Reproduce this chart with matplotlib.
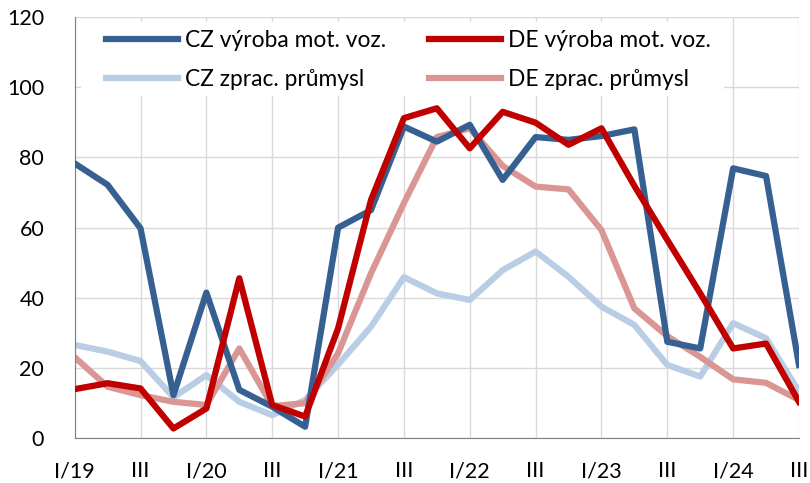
import numpy as np
import matplotlib.pyplot as plt
from matplotlib.patches import Rectangle

plt.rcParams['font.family'] = ['Lato', 'DejaVu Sans']

quarters = ['I/19', 'II/19', 'III/19', 'IV/19', 'I/20', 'II/20', 'III/20', 'IV/20',
            'I/21', 'II/21', 'III/21', 'IV/21', 'I/22', 'II/22', 'III/22', 'IV/22',
            'I/23', 'II/23', 'III/23', 'IV/23', 'I/24', 'II/24', 'III/24']
tick_labels = ['I/19', 'III', 'I/20', 'III', 'I/21', 'III', 'I/22', 'III', 'I/23', 'III', 'I/24', 'III']

cz_auto = [78.3, 72.2, 59.8, 12.3, 41.5, 13.8, 9.0, 3.3, 60.0, 65.0, 88.8, 84.5,
           89.3, 73.6, 85.8, 85.0, 86.1, 88.0, 27.5, 25.6, 76.9, 74.7, 20.9]
de_auto = [14.0, 15.7, 14.2, 2.8, 8.5, 45.6, 9.5, 6.2, 31.3, 67.9, 91.2, 94.0,
           82.6, 93.0, 89.9, 83.6, 88.3, 71.9, 56.5, 41.3, 25.6, 27.0, 10.4]
cz_manuf = [26.6, 24.7, 22.0, 11.7, 18.0, 10.4, 6.6, 10.9, 21.0, 31.8, 45.9, 41.3,
            39.4, 47.9, 53.2, 46.0, 37.5, 32.3, 20.9, 17.6, 32.8, 28.5, 13.3]
de_manuf = [23.1, 14.7, 12.3, 10.4, 9.5, 25.6, 9.2, 10.0, 24.2, 47.0, 67.0, 85.8,
            88.3, 77.6, 71.7, 70.9, 59.3, 37.0, 29.1, 23.2, 16.8, 15.8, 10.9]

x = np.arange(len(quarters))

fig = plt.figure(figsize=(8.1, 4.83), dpi=100)
ax = fig.add_axes([0.0922, 0.0925, 0.8942, 0.8723])

lw = 4.5
ax.plot(x, cz_auto, color='#376092', lw=lw, label='CZ výroba mot. voz.', zorder=3)
ax.plot(x, de_auto, color='#C00000', lw=lw, label='DE výroba mot. voz.', zorder=3)
ax.plot(x, cz_manuf, color='#B9CDE5', lw=lw, label='CZ zprac. průmysl', zorder=2)
ax.plot(x, de_manuf, color='#D99694', lw=lw, label='DE zprac. průmysl', zorder=2)

ax.set_xlim(0, 22)
ax.set_ylim(0, 120)
ax.set_xticks(x[::2])
ax.set_xticklabels(tick_labels)
ax.set_yticks(np.arange(0, 121, 20))
ax.tick_params(length=0, labelsize=15.5, colors='black')
ax.tick_params('x', pad=16.5)
ax.tick_params('y', pad=22)

ax.grid(True, color='#D9D9D9', lw=1)
ax.set_axisbelow(True)
for s in ['top', 'right']:
    ax.spines[s].set_visible(False)
ax.spines['left'].set_color('#7F7F7F')
ax.spines['bottom'].set_color('#7F7F7F')

# white legend background hiding the grid
ax.add_patch(Rectangle((0.0087, 0.8125), 0.8878, 0.1755, transform=ax.transAxes,
                       facecolor='white', edgecolor='none', zorder=1))

handles, labels = ax.get_legend_handles_labels()
order = [0, 2, 1, 3]
leg = ax.legend([handles[i] for i in order], [labels[i] for i in order],
                loc='upper left', bbox_to_anchor=(0.0432, 0.97), ncol=2,
                fontsize=16.4, frameon=False, handlelength=3.16,
                handletextpad=0.3, columnspacing=1.9, labelspacing=0.8,
                borderpad=0, borderaxespad=0)

fig.savefig('out.png', dpi=100)
